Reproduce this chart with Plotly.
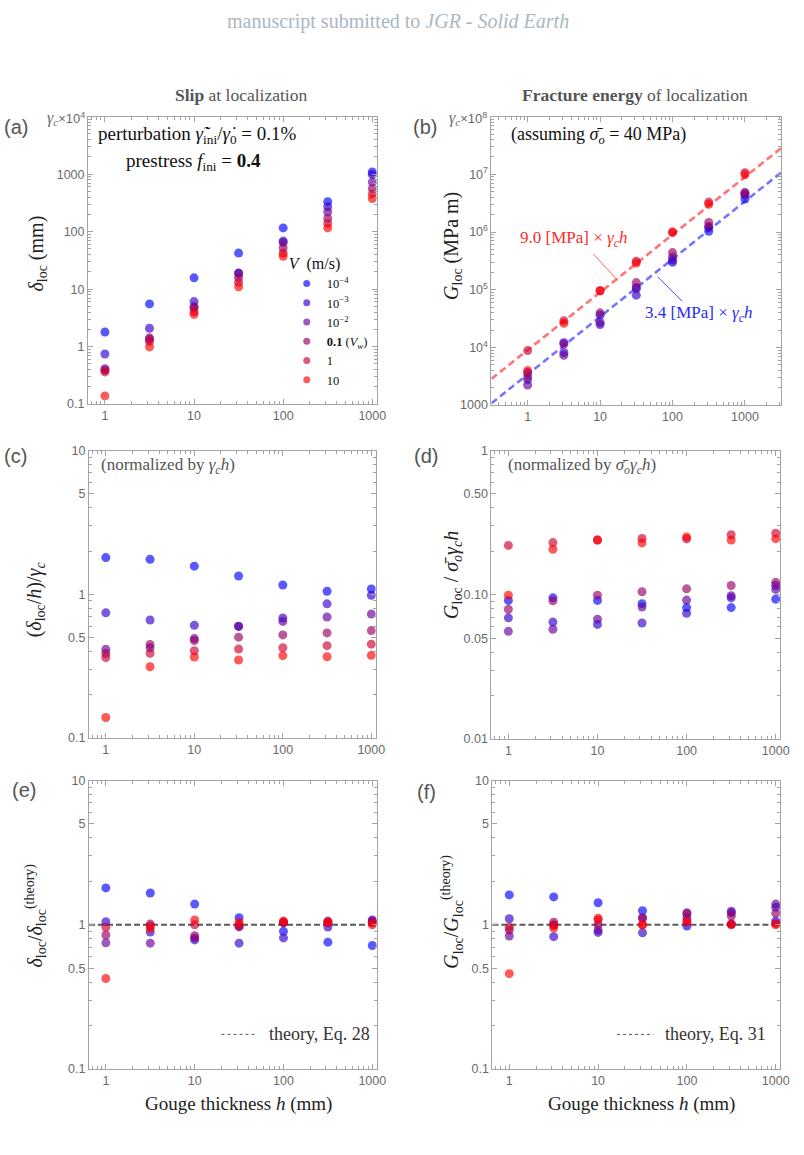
import plotly.graph_objects as go

W, H = 804, 1155

# ---------------- data ----------------
h_mm = [1, 3.162, 10, 31.62, 100, 316.2, 1000]
V_names = ["10<sup>−4</sup>", "10<sup>−3</sup>", "10<sup>−2</sup>",
           "<b>0.1</b> (<i>V<sub>w</sub></i>)", "1", "10"]

# (a) slip at localization (mm), one row per V
slip_loc = [
    [1.80, 5.53, 15.7, 42.4, 116, 332, 1090],
    [0.743, 2.09, 6.08, 18.9, 68.4, 271, 984],
    [0.414, 1.34, 4.92, 19.0, 64.8, 220, 728],
    [0.388, 1.42, 4.77, 15.9, 52.2, 170, 559],
    [0.363, 1.23, 4.05, 13.2, 42.5, 139, 450],
    [0.139, 0.99, 3.66, 11.0, 37.4, 116, 376],
]
# (b) fracture energy (MPa m)
G_loc = [
    [3660, 12050, 36560, 109800, 326000, 1031000, 3730000],
    [2770, 8180, 24920, 80570, 298000, 1206000, 4640000],
    [2230, 7300, 27120, 104000, 367600, 1245000, 4360000],
    [3180, 11490, 39720, 132800, 440000, 1467000, 4880000],
    [8800, 29090, 96000, 311200, 976000, 3300000, 10680000],
    [3970, 26180, 96000, 289700, 1008000, 3036000, 9800000],
]
# (c) slip normalized by gamma_c h
slip_norm = [
    [1.80, 1.75, 1.57, 1.34, 1.16, 1.05, 1.09],
    [0.743, 0.662, 0.608, 0.598, 0.684, 0.858, 0.984],
    [0.414, 0.425, 0.492, 0.600, 0.648, 0.695, 0.728],
    [0.388, 0.448, 0.477, 0.503, 0.522, 0.539, 0.559],
    [0.363, 0.388, 0.405, 0.416, 0.425, 0.439, 0.450],
    [0.139, 0.313, 0.366, 0.349, 0.374, 0.368, 0.376],
]
# (d) fracture energy normalized by sigma_o gamma_c h
G_norm = [
    [0.0914, 0.0953, 0.0914, 0.0868, 0.0815, 0.0815, 0.0933],
    [0.0692, 0.0647, 0.0623, 0.0637, 0.0745, 0.0953, 0.116],
    [0.0558, 0.0577, 0.0678, 0.0822, 0.0919, 0.0984, 0.109],
    [0.0794, 0.0908, 0.0993, 0.105, 0.110, 0.116, 0.122],
    [0.220, 0.230, 0.240, 0.246, 0.244, 0.261, 0.267],
    [0.0993, 0.207, 0.240, 0.229, 0.252, 0.240, 0.245],
]
# (e) slip / theory
slip_ratio = [
    [1.80, 1.66, 1.39, 1.12, 0.90, 0.757, 0.718],
    [1.05, 0.891, 0.785, 0.745, 0.81, 0.965, 1.08],
    [0.749, 0.745, 0.81, 0.97, 1.03, 1.06, 1.06],
    [0.849, 1.01, 0.84, 0.97, 1.04, 1.03, 1.04],
    [0.959, 0.98, 1.00, 1.00, 1.04, 1.04, 1.03],
    [0.424, 0.944, 1.08, 1.04, 1.06, 1.04, 1.00],
]
# (f) fracture energy / theory
G_ratio = [
    [1.61, 1.56, 1.42, 1.25, 0.98, 1.01, 1.06],
    [1.10, 0.827, 0.885, 0.88, 1.12, 1.21, 1.32],
    [0.836, 0.99, 0.92, 1.12, 1.21, 1.24, 1.39],
    [0.92, 1.04, 1.00, 1.11, 1.19, 1.15, 1.20],
    [0.96, 1.00, 1.08, 1.00, 1.06, 1.01, 1.02],
    [0.458, 0.95, 1.11, 1.00, 1.04, 1.00, 1.00],
]
fit_coef_MPa = [9.0, 3.4]          # red, blue fits in (b)
theory_ratio = 1.0

# ---------------- style ----------------
base_rgb = ["rgb(0,0,255)", "rgb(51,0,204)", "rgb(102,0,153)",
            "rgb(153,0,102)", "rgb(204,0,51)", "rgb(255,0,0)"]
OP = 0.65
MS = 9
SERIF = "Liberation Serif, Times New Roman, serif"
SANS = "Liberation Sans, Arial, sans-serif"
FRAME = "#a3a3a3"
TICKC = "#6a6a6a"


def px_x(p):
    return p / W


def px_y(p):
    return 1 - p / H


def minor_vals(lo, hi):
    out = []
    for e in range(lo, hi):
        for k in range(2, 10):
            out.append(k * 10 ** e)
    return out


def axis(dom, rng, tickvals, ticktext, mlo, mhi, showlabels=True):
    return dict(
        type="log", domain=dom, range=rng, showline=True, linecolor=FRAME,
        linewidth=1, mirror="allticks", ticks="inside", ticklen=5,
        tickwidth=1, tickcolor=FRAME, showgrid=False, zeroline=False,
        tickmode="array", tickvals=tickvals, ticktext=ticktext,
        showticklabels=showlabels,
        tickfont=dict(family=SANS, size=12.5, color=TICKC),
        minor=dict(ticks="inside", ticklen=3, tickwidth=1, tickcolor=FRAME,
                   tickmode="array", tickvals=minor_vals(mlo, mhi),
                   showgrid=False),
    )


xt_vals = [1, 10, 100, 1000]
xt_text = ["1", "10", "100", "1000"]
XR = [-0.19, 3.05]

panels = {
    "a": dict(x=(89, 381), y=(111, 402), xr=XR, yr=[-1, 4],
              yv=[0.1, 1, 10, 100, 1000], yt=["0.1", "1", "10", "100", "1000"],
              ym=(-1, 4), data=slip_loc),
    "b": dict(x=(497, 790), y=(111, 403), xr=[-0.5, 3.5], yr=[3, 8],
              yv=[1e3, 1e4, 1e5, 1e6, 1e7],
              yt=["1000", "10<sup>4</sup>", "10<sup>5</sup>", "10<sup>6</sup>", "10<sup>7</sup>"],
              ym=(3, 8), data=G_loc),
    "c": dict(x=(90, 380), y=(449, 740), xr=XR, yr=[-1, 1],
              yv=[0.1, 0.2, 0.5, 1, 2, 5, 10], yt=["0.1", "", "0.5", "1", "", "5", "10"],
              ym=(-1, 1), data=slip_norm),
    "d": dict(x=(497, 789), y=(449, 741), xr=XR, yr=[-2, 0],
              yv=[0.01, 0.02, 0.05, 0.1, 0.2, 0.5, 1],
              yt=["0.01", "", "0.05", "0.10", "", "0.50", "1"],
              ym=(-2, 0), data=G_norm),
    "e": dict(x=(90, 381), y=(783, 1075), xr=XR, yr=[-1, 1],
              yv=[0.1, 0.2, 0.5, 1, 2, 5, 10], yt=["0.1", "", "0.5", "1", "", "5", "10"],
              ym=(-1, 1), data=slip_ratio),
    "f": dict(x=(498, 789), y=(783, 1075), xr=XR, yr=[-1, 1],
              yv=[0.1, 0.2, 0.5, 1, 2, 5, 10], yt=["0.1", "", "0.5", "1", "", "5", "10"],
              ym=(-1, 1), data=G_ratio),
}

fig = go.Figure()
layout_axes = {}
for idx, (key, p) in enumerate(panels.items()):
    n = "" if idx == 0 else str(idx + 1)
    xd = [px_x(p["x"][0]), px_x(p["x"][1])]
    yd = [px_y(p["y"][1]), px_y(p["y"][0])]
    xa = axis(xd, p["xr"], xt_vals, xt_text, -1, 4)
    xa["anchor"] = "y" + n
    ya = axis(yd, p["yr"], p["yv"], p["yt"], p["ym"][0], p["ym"][1])
    ya["anchor"] = "x" + n
    layout_axes["xaxis" + n] = xa
    layout_axes["yaxis" + n] = ya
    p["xref"] = "x" + n
    p["yref"] = "y" + n

# fit lines in (b)
xb = [10 ** -0.5, 10 ** 3.5]
fit_colors = ["rgba(255,70,70,0.75)", "rgba(70,70,255,0.75)"]
for c, col in zip(fit_coef_MPa, fit_colors):
    fig.add_trace(go.Scatter(
        x=xb, y=[c * 1000 * v for v in xb], mode="lines",
        line=dict(color=col, width=2.6, dash="7px,4px"),
        xaxis=panels["b"]["xref"], yaxis=panels["b"]["yref"],
        showlegend=False, hoverinfo="skip"))

# theory lines in (e), (f)
for key in ["e", "f"]:
    p = panels[key]
    xr = [10 ** p["xr"][0], 10 ** p["xr"][1]]
    fig.add_trace(go.Scatter(
        x=xr, y=[theory_ratio, theory_ratio], mode="lines",
        line=dict(color="#5a5a5a", width=2, dash="6px,3px"),
        xaxis=p["xref"], yaxis=p["yref"], showlegend=False, hoverinfo="skip"))

# data points
for key, p in panels.items():
    for i, row in enumerate(p["data"]):
        fig.add_trace(go.Scatter(
            x=h_mm, y=row, mode="markers",
            marker=dict(size=MS, color=base_rgb[i], opacity=OP, line=dict(width=0)),
            xaxis=p["xref"], yaxis=p["yref"], showlegend=False,
            hoverinfo="skip"))

# legend entries (panel a)
for i in range(6):
    fig.add_trace(go.Scatter(
        x=[None], y=[None], mode="markers", name=V_names[i],
        marker=dict(size=7, color=base_rgb[i], opacity=OP),
        xaxis="x", yaxis="y", showlegend=True))

ann = []


def A(text, x, y, size=16, color="#222", family=SERIF, xanchor="center",
      yanchor="middle", angle=0):
    ann.append(dict(text=text, x=px_x(x), y=px_y(y), xref="paper", yref="paper",
                    showarrow=False, xanchor=xanchor, yanchor=yanchor,
                    textangle=angle, font=dict(family=family, size=size, color=color)))


A("manuscript submitted to <i>JGR - Solid Earth</i>", 402, 15, 20, "#a9b7c4")
A("<b>Slip</b> at localization", 244, 89, 17.5, "#555")
A("<b>Fracture energy</b> of localization", 642, 89, 17.5, "#555")

for lab, x, y in [("(a)", 16, 121), ("(b)", 430, 121), ("(c)", 16, 455),
                  ("(d)", 431, 455), ("(e)", 24, 793), ("(f)", 431, 795)]:
    A(lab, x, y, 20, "#555", SANS)

A('<span style="font-family:Liberation Serif;font-size:16px"><i>γ<sub>c</sub></i></span>×10<sup>4</sup>',
  88, 113, 13, TICKC, SANS, xanchor="right")
A('<span style="font-family:Liberation Serif;font-size:16px"><i>γ<sub>c</sub></i></span>×10<sup>8</sup>',
  495, 113, 13, TICKC, SANS, xanchor="right")

A("perturbation <i>γ\u0307\u0303</i><sub>ini</sub>/<i>γ\u0307</i><sub>0</sub> = 0.1%", 200, 130, 19, "#111")
A("prestress <i>f</i><sub>ini</sub> = <b>0.4</b>", 196, 157, 19, "#111")
A("(assuming <i>σ\u0304<sub>o</sub></i> = 40 MPa)", 515, 130, 18, "#111", xanchor="left")
A("(normalized by <i>γ<sub>c</sub>h</i>)", 100, 465, 17, "#555", xanchor="left")
A("(normalized by <i>σ\u0304<sub>o</sub>γ<sub>c</sub>h</i>)", 512, 465, 17, "#555", xanchor="left")

A("9.0 [MPa] × <i>γ<sub>c</sub>h</i>", 580, 235, 17, "#ff2a2a")
A("3.4 [MPa] × <i>γ<sub>c</sub>h</i>", 707, 311, 17, "#2a2aff")

A("<i>δ</i><sub>loc</sub> (mm)", 38, 250, 20, "#222", angle=-90)
A("<i>G</i><sub>loc</sub> (MPa m)", 457, 242, 20, "#222", angle=-90)
A("(<i>δ</i><sub>loc</sub>/<i>h</i>)/<i>γ<sub>c</sub></i>", 36, 600, 20, "#222", angle=-90)
A("<i>G</i><sub>loc</sub> / <i>σ\u0304<sub>o</sub>γ<sub>c</sub>h</i>", 457, 575, 20, "#222", angle=-90)
A("<i>δ</i><sub>loc</sub>/<i>δ</i><sub>loc</sub><sup>(theory)</sup>", 36, 920, 20, "#222", angle=-90)
A("<i>G</i><sub>loc</sub>/<i>G</i><sub>loc</sub><sup>(theory)</sup>", 457, 916, 20, "#222", angle=-90)

A("Gouge thickness <i>h</i> (mm)", 241, 1110, 19, "#222")
A("Gouge thickness <i>h</i> (mm)", 649, 1110, 19, "#222")

A("theory, Eq. 28", 270, 1040, 18, "#333", xanchor="left")
A("theory, Eq. 31", 671, 1040, 18, "#333", xanchor="left")

shapes = []


def L(x0, y0, x1, y1, color, width=1, dash="solid"):
    shapes.append(dict(type="line", xref="paper", yref="paper",
                       x0=px_x(x0), y0=px_y(y0), x1=px_x(x1), y1=px_y(y1),
                       line=dict(color=color, width=width, dash=dash)))


L(600, 250, 625, 277, "#ff6a50", 1)
L(665, 273, 690, 298, "#4a4aff", 1)
L(224, 1040, 258, 1040, "#555", 1, "dot")
L(624, 1040, 661, 1040, "#555", 1, "dot")

fig.update_layout(
    width=W, height=H, margin=dict(l=0, r=0, t=0, b=0),
    paper_bgcolor="white", plot_bgcolor="white",
    annotations=ann, shapes=shapes,
    legend=dict(x=px_x(290), y=px_y(244), xanchor="left", yanchor="top",
                bgcolor="rgba(0,0,0,0)", borderwidth=0,
                font=dict(family=SERIF, size=12.5, color="#111"),
                title=dict(text="<i>V</i>  (m/s)", font=dict(family=SERIF, size=16, color="#111")),
                tracegroupgap=0, itemwidth=30),
    **layout_axes,
)

fig.write_html("out.html")
